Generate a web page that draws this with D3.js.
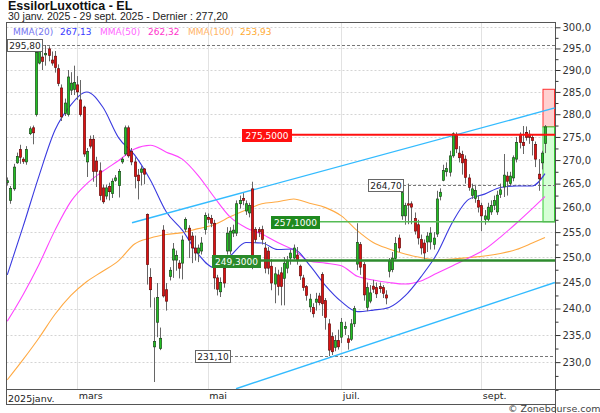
<!DOCTYPE html>
<html><head><meta charset="utf-8">
<script src="https://cdn.jsdelivr.net/npm/d3@7"></script>
<style>html,body{margin:0;padding:0;background:#fff;} svg{display:block;}</style>
</head><body><svg id="c" width="600" height="413"></svg>
<script>
// ---------- DATA ----------
const opens = [265.2,261.5,263.9,269.4,272.3,270.2,269.6,275.7,277.0,279.9,
291.6,293.0,293.5,294.9,292.3,293.2,290.3,285.9,280.2,279.9,
285.4,285.6,286.6,283.2,281.6,269.6,274.5,274.5,269.8,267.7,
264.1,262.4,264.4,262.9,265.7,264.6,269.6,271.3,277.0,271.8,
269.6,266.8,267.4,268.1,258.6,246.0,232.8,237.4,232.5,255.4,
243.6,246.2,249.4,249.4,248.8,248.8,255.6,255.8,254.2,251.8,
250.8,251.2,255.5,258.0,257.8,256.8,245.9,243.2,247.8,251.2,
251.2,254.8,254.8,260.8,261.9,259.3,258.9,263.9,255.5,255.5,
255.5,251.8,251.2,248.2,244.7,246.5,246.9,245.8,247.8,249.8,
249.8,250.4,248.2,245.9,244.2,240.3,240.2,241.2,242.4,246.6,
241.5,237.1,234.7,232.7,234.0,234.6,236.2,234.3,234.2,237.1,
248.6,252.5,248.5,240.2,241.4,244.3,244.0,244.2,244.0,242.6,
247.2,247.5,249.7,253.8,258.3,258.3,260.8,260.8,257.8,256.5,
253.5,252.8,253.0,253.0,252.5,254.6,262.3,265.7,267.5,267.4,
270.9,275.3,271.5,271.2,270.2,266.2,262.5,261.9,261.5,260.4,
257.6,257.6,259.1,260.4,259.1,262.7,264.3,266.6,265.0,266.2,
270.2,275.6,273.8,276.0,275.6,274.9,273.4,267.0,269.4,273.6];
const highs = [266.3,264.5,269.2,271.6,273.3,270.6,273.0,277.3,277.5,294.8,
295.5,295.8,295.8,295.5,294.3,294.4,291.3,286.7,283.5,290.0,
289.5,291.0,288.6,287.7,281.9,272.6,275.3,275.4,270.7,269.5,
264.8,264.8,265.2,266.1,266.8,268.1,270.6,277.5,277.5,272.6,
270.6,268.1,268.7,268.3,258.8,247.8,242.1,244.9,236.4,256.4,
244.9,248.0,252.8,251.3,249.4,254.3,258.0,256.4,255.0,254.3,
252.5,254.0,259.0,258.8,258.5,257.5,246.5,246.0,248.5,256.0,
256.0,256.5,261.5,262.5,263.0,261.5,261.0,265.4,256.0,256.0,
256.3,253.0,252.0,249.6,248.0,247.5,248.0,250.0,250.2,251.5,
252.5,252.0,248.5,246.5,244.5,242.8,241.0,243.0,243.0,247.0,
242.0,238.0,235.5,235.0,236.0,238.2,237.5,235.0,238.0,240.5,
256.8,253.0,249.0,245.0,244.5,245.5,245.0,245.0,244.5,243.5,
249.8,251.0,254.0,254.5,263.5,261.0,265.0,261.3,259.0,257.5,
254.5,253.5,255.0,256.0,255.0,263.5,264.0,269.0,269.5,272.0,
276.0,276.0,273.0,272.0,271.0,267.0,265.0,264.5,262.5,261.0,
259.5,261.0,261.5,262.5,263.5,265.0,271.3,267.5,267.5,271.0,
275.0,276.0,277.4,277.3,276.5,275.5,274.0,270.2,272.0,277.6];
const lows = [264.6,260.8,263.5,269.2,269.2,269.2,269.0,275.4,273.4,279.5,
291.3,290.0,291.0,292.0,291.0,289.4,286.3,278.5,279.6,279.5,
284.3,284.3,283.2,279.5,270.7,266.4,272.5,265.4,264.3,261.5,
260.8,261.7,261.5,262.0,265.4,262.1,269.2,270.9,270.5,268.9,
264.0,261.7,264.6,264.9,244.6,240.2,226.4,234.6,232.2,242.1,
239.6,245.4,245.9,247.3,245.8,245.6,255.0,249.8,248.8,249.3,
249.0,250.5,254.5,256.8,256.0,243.7,242.5,242.2,244.0,250.5,
250.5,254.0,254.2,259.8,260.5,258.5,258.0,247.6,252.8,254.0,
252.5,246.8,246.6,243.5,241.0,242.5,240.6,240.6,246.8,248.5,
249.5,248.5,245.5,243.4,241.5,239.3,238.3,239.6,240.6,238.6,
236.0,231.1,231.3,232.0,232.3,233.5,235.0,232.3,233.9,236.5,
247.4,246.5,241.5,239.5,241.0,243.0,242.0,243.0,242.0,240.8,
246.0,247.0,249.5,251.0,257.5,256.5,256.6,256.6,254.5,252.5,
250.5,249.5,251.0,251.5,251.5,254.0,261.5,265.5,266.5,266.5,
270.5,271.5,269.5,266.9,265.0,263.5,261.8,261.0,259.0,255.2,
256.5,257.2,258.5,259.5,258.5,262.0,262.2,262.5,264.5,265.5,
269.5,272.5,271.3,274.2,273.5,271.0,268.5,263.5,268.0,271.5];
const closes = [265.6,264.0,268.5,270.8,270.6,269.7,272.3,276.8,275.9,294.1,
294.7,292.0,293.8,293.4,291.6,290.6,286.9,279.4,282.5,288.4,
287.0,287.1,285.0,279.9,271.3,271.8,273.0,267.6,267.6,262.5,
261.2,264.1,263.3,265.5,266.2,267.6,270.2,277.0,270.9,269.6,
266.5,265.6,268.1,267.0,248.5,243.6,233.8,242.1,234.4,242.4,
241.4,247.4,251.6,250.3,247.8,253.4,257.6,253.4,251.8,250.8,
251.8,252.8,258.4,257.6,256.8,245.9,243.7,245.0,244.9,254.8,
255.2,255.4,260.8,261.5,261.5,260.8,260.4,249.8,253.5,255.0,
253.5,247.8,247.8,244.9,246.7,244.2,244.2,248.8,249.2,250.8,
251.8,249.4,246.3,244.0,242.5,241.8,239.0,241.8,241.1,240.9,
238.3,232.2,231.9,234.0,232.8,237.4,236.6,233.6,237.1,240.0,
252.9,248.0,242.6,244.0,243.0,243.7,242.8,243.8,242.9,242.0,
249.1,249.8,252.7,251.8,263.1,260.4,260.5,260.1,255.2,253.8,
251.8,250.8,254.2,254.8,253.8,261.8,263.2,267.8,268.2,270.9,
275.7,272.4,270.5,269.4,266.3,264.2,263.9,263.6,260.1,258.3,
258.3,260.1,260.4,261.5,262.6,263.7,266.8,265.5,266.6,270.5,
273.8,273.8,273.1,274.9,274.9,274.2,270.2,266.0,271.5,277.2];

// moving averages at these session indices
const maIdx = [0,5,10,15,20,25,30,35,40,45,50,55,60,65,70,75,80,85,90,95,100,105,110,115,120,125,130,135,140,145,150,155,160,165,169];
const ma20 = [246.5,256.2,266.7,276.5,282.1,285.0,281.6,274.8,271.1,265.7,259.1,255.4,250.6,247.9,250.2,252.9,252.8,251.5,251.6,248.4,244.4,241.3,239.4,239.7,240.2,242.4,246.1,250.6,257.1,261.7,262.8,264.2,264.5,264.5,267.1];
const ma50 = [237.6,242.7,248.6,255.4,261.3,265.0,267.6,269.9,272.4,273.2,271.7,270.2,266.7,262.2,258.1,255.9,254.6,252.9,251.4,249.2,248.8,248.3,246.2,245.5,245.0,244.7,245.3,246.8,248.3,249.8,251.5,254.0,256.8,259.8,262.3];
const ma100 = [226.8,230.5,234.5,238.9,242.5,245.2,247.2,249.3,252.6,253.8,254.5,254.9,255.7,256.5,258.1,259.5,260.8,261.2,261.8,260.9,260.0,258.3,255.3,252.9,251.6,250.6,249.9,249.5,249.6,249.9,250.2,250.7,251.5,252.8,253.9];

const legendNames = ["MMA(20)","MMA(50)","MMA(100)"];
const legendValues = ["267,13","262,32","253,93"];

const monthIdx = [22, 63, 105, 149];
const monthLabels = ["mars","mai","juil.","sept."];
const firstLabel = "2025janv.";
const priceTicks = [230,235,240,245,250,255,260,265,270,275,280,285,290,295,300];
const minorTicks = [225,227.5,232.5,237.5,242.5,247.5,252.5,257.5,262.5,267.5,272.5,277.5,282.5,287.5,292.5,297.5];

const upperChannelIdx = [39.2, 172.1], upperChannelVal = [256.9, 281.4];
const lowerChannelIdx = [71.9, 172.1], lowerChannelVal = [225.2, 245.0];

const resistance = 275.5, support1 = 257.1, support2 = 249.3;
const periodHigh = 295.80, periodLow = 231.10, recentLow = 264.70;
const targetTop = 285.6, lastClose = 277.20;

// ---------- CHART ----------
const svg = d3.select("#c");
const PL = 6.5, PT = 22.5, PR = 555.5, PB = 389.5;
const n = closes.length;
const x = d3.scaleLinear().domain([0, n - 1]).range([7.3, 545]);
const y = d3.scaleLog().domain([225.15, 301.26]).range([389, 22]);
const fr = v => d3.format(".1f")(v).replace(".", ",");
const fr2 = v => d3.format(".2f")(v).replace(".", ",");
const fr4 = v => d3.format(".4f")(v).replace(".", ",");
const FONT = "'DejaVu Sans', Verdana, sans-serif";

svg.append("rect").attr("width", 600).attr("height", 413).attr("fill", "#fff");

svg.append("defs").append("clipPath").attr("id", "clip")
  .append("rect").attr("x", PL).attr("y", PT).attr("width", PR - PL).attr("height", PB - PT);

// header
svg.append("text").attr("x", 8).attr("y", 10)
  .style("font", "bold 12.5px 'Liberation Sans', Arial, sans-serif").attr("fill", "#111")
  .text("EssilorLuxottica - EL");
svg.append("text").attr("x", 8).attr("y", 20)
  .style("font", "10.5px 'Liberation Sans', Arial, sans-serif").attr("fill", "#222")
  .text("30 janv. 2025 - 29 sept. 2025 - Dernier : 277,20");

// grid
const grid = svg.append("g");
grid.selectAll("line.h").data(priceTicks).join("line")
  .attr("x1", PL).attr("x2", PR)
  .attr("y1", d => Math.round(y(d)) + 0.5).attr("y2", d => Math.round(y(d)) + 0.5)
  .attr("stroke", "#d4d4d4").attr("stroke-dasharray", "2,2");
grid.selectAll("line.v").data(monthIdx).join("line")
  .attr("x1", d => Math.round(x(d)) + 0.5).attr("x2", d => Math.round(x(d)) + 0.5)
  .attr("y1", PT).attr("y2", PB)
  .attr("stroke", "#e2e2e2");

const plot = svg.append("g").attr("clip-path", "url(#clip)");

// target boxes
const bx = x(n - 1) - 2;
plot.append("rect").attr("x", bx).attr("width", PR - 1 - bx)
  .attr("y", y(targetTop)).attr("height", y(lastClose) - y(targetTop))
  .attr("fill", "#ffd0d0").attr("stroke", "#ff3030").attr("stroke-width", 1);
plot.append("rect").attr("x", bx).attr("width", PR - 1 - bx)
  .attr("y", y(lastClose)).attr("height", y(support1) - y(lastClose))
  .attr("fill", "#d6ffd6").attr("stroke", "#33cc33").attr("stroke-width", 1);

// dashed reference lines
const dash = (v, x1) => plot.append("line").attr("x1", x1).attr("x2", PR)
  .attr("y1", Math.round(y(v)) + 0.5).attr("y2", Math.round(y(v)) + 0.5)
  .attr("stroke", "#777").attr("stroke-dasharray", "3,2");
dash(periodHigh, 42); dash(periodLow, 230); dash(recentLow, 403);

// moving averages
const maLine = vals => d3.line().x((d, i) => x(maIdx[i])).y(d => y(d)).curve(d3.curveMonotoneX)(vals);
plot.append("path").attr("d", maLine(ma100)).attr("fill", "none").attr("stroke", "#ffaa44").attr("stroke-width", 1.1);
plot.append("path").attr("d", maLine(ma50)).attr("fill", "none").attr("stroke", "#ff44ff").attr("stroke-width", 1.1);
plot.append("path").attr("d", maLine(ma20)).attr("fill", "none").attr("stroke", "#3a3ae0").attr("stroke-width", 1.1);

// channel
const chan = (ix, vv) => plot.append("line")
  .attr("x1", x(ix[0])).attr("y1", y(vv[0])).attr("x2", x(ix[1])).attr("y2", y(vv[1]))
  .attr("stroke", "#33bbff").attr("stroke-width", 1.4);
chan(upperChannelIdx, upperChannelVal);
chan(lowerChannelIdx, lowerChannelVal);

// candles
const cg = plot.append("g");
const idx = d3.range(n);
cg.selectAll("line").data(idx).join("line")
  .attr("x1", i => Math.round(x(i)) + 0.5).attr("x2", i => Math.round(x(i)) + 0.5)
  .attr("y1", i => y(highs[i])).attr("y2", i => y(lows[i]))
  .attr("stroke", "#666").attr("stroke-width", 1);
cg.selectAll("rect").data(idx).join("rect")
  .attr("x", i => Math.round(x(i)) - 0.7).attr("width", 2.4)
  .attr("y", i => y(Math.max(opens[i], closes[i])))
  .attr("height", i => Math.max(1, Math.abs(y(opens[i]) - y(closes[i]))))
  .attr("fill", i => closes[i] >= opens[i] ? "#22c022" : "#dd1111")
  .attr("stroke", i => closes[i] >= opens[i] ? "#1a3a1a" : "#5a0a0a")
  .attr("stroke-width", 0.6);

// levels
const level = (v, x1, color, w) => plot.append("line").attr("x1", x1).attr("x2", PR)
  .attr("y1", y(v)).attr("y2", y(v)).attr("stroke", color).attr("stroke-width", w);
level(support2, 212, "#2e8b2e", 2.5);
level(support1, 271, "#55bb55", 1.4);
level(resistance, 242, "#ff1010", 2);

// label boxes
function tag(v, x0, w, fill, stroke, txtColor, txt) {
  const yc = y(v);
  svg.append("rect").attr("x", x0 + 0.5).attr("y", Math.round(yc) - 6 + 0.5).attr("width", w).attr("height", 12)
    .attr("fill", fill).attr("stroke", stroke);
  svg.append("text").attr("x", x0 + 0.5 + w / 2).attr("y", Math.round(yc) + 3.8)
    .attr("text-anchor", "middle").style("font", "9px " + FONT).attr("fill", txtColor).text(txt);
}
tag(periodHigh, 7, 35, "#fff", "#666", "#222", fr2(periodHigh));
tag(periodLow, 195, 35, "#fff", "#666", "#222", fr2(periodLow));
tag(recentLow, 368, 35, "#fff", "#666", "#222", fr2(recentLow));
tag(resistance, 242, 49, "#ff1010", "#ff1010", "#fff", fr4(resistance));
tag(support1, 271, 48, "#1f8a1f", "#1f8a1f", "#fff", fr4(support1));
tag(support2, 212, 48, "#2a8a2a", "#2a8a2a", "#fff", fr4(support2));

// legend
const lg = svg.append("g").style("font", "9px " + FONT);
const lgX = [13, 60, 100, 148, 188, 240];
const lgC = ["#7373f0", "#3a3aff", "#ff66ff", "#ff33cc", "#ffb366", "#ffaa33"];
legendNames.forEach((nm, k) => {
  lg.append("text").attr("x", lgX[2 * k]).attr("y", 35).attr("fill", lgC[2 * k]).text(nm);
  lg.append("text").attr("x", lgX[2 * k + 1]).attr("y", 35).attr("fill", lgC[2 * k + 1]).text(legendValues[k]);
});

// frames
svg.append("rect").attr("x", PL).attr("y", PT).attr("width", PR - PL).attr("height", PB - PT)
  .attr("fill", "none").attr("stroke", "#555");
svg.append("rect").attr("x", PL).attr("y", PB).attr("width", PR - PL).attr("height", 15)
  .attr("fill", "none").attr("stroke", "#555");
svg.append("line").attr("x1", PR).attr("x2", 600).attr("y1", PB).attr("y2", PB).attr("stroke", "#555");
svg.append("line").attr("x1", PR).attr("x2", PR).attr("y1", PT).attr("y2", 413).attr("stroke", "#555");

// right axis
const ax = svg.append("g").attr("transform", `translate(${PR},0)`)
  .call(d3.axisRight(y).tickValues(priceTicks).tickSize(5).tickPadding(2).tickFormat(fr));
ax.select(".domain").remove();
ax.selectAll("text").style("font", "10px " + FONT).attr("fill", "#333");
ax.selectAll("line").attr("stroke", "#333");
const ax2 = svg.append("g").attr("transform", `translate(${PR},0)`)
  .call(d3.axisRight(y).tickValues(minorTicks).tickSize(3).tickFormat(""));
ax2.select(".domain").remove();
ax2.selectAll("line").attr("stroke", "#333");

// bottom axis
const bxAxis = svg.append("g").attr("transform", `translate(0,${PB})`)
  .call(d3.axisBottom(x).tickValues(monthIdx).tickSize(0).tickFormat((d, i) => monthLabels[i]));
bxAxis.select(".domain").remove();
bxAxis.selectAll("text").attr("text-anchor", "start").attr("dx", 1).attr("y", 2.5)
  .style("font", "9.5px " + FONT).attr("fill", "#222");
svg.append("text").attr("x", 8).attr("y", PB + 12).style("font", "9.5px " + FONT).attr("fill", "#222").text(firstLabel);

svg.append("text").attr("x", 508).attr("y", 412).style("font", "9.5px " + FONT).attr("fill", "#444").text("© Zonebourse.com");
</script></body></html>
